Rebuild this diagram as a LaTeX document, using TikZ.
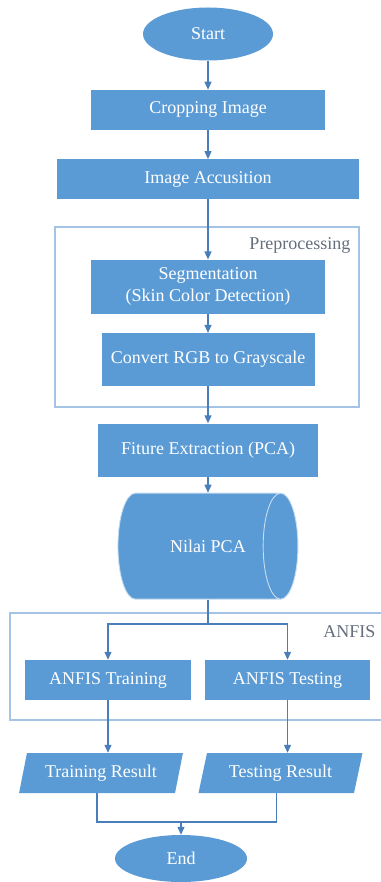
\documentclass[tikz,border=0pt]{standalone}
\usepackage{fontspec}
\setmainfont{Liberation Serif}
\newfontfamily\hurufserif{Liberation Serif}
\usetikzlibrary{positioning, arrows.meta, calc, fit, backgrounds, shapes.geometric}
\definecolor{azulcaja}{RGB}{91,155,213}
\definecolor{garis}{RGB}{74,126,187}
\definecolor{bingkai}{RGB}{165,195,228}
\definecolor{abu}{RGB}{100,110,125}
\newcommand{\teks}{\hurufserif\fontsize{18}{22}\selectfont}

\begin{document}
\begin{tikzpicture}[
		% Satuan dalam piksel (y ke bawah)
		x=1pt, y=-1pt,
		% Gaya bentuk diagram alir
		terminal/.style={ellipse, fill=azulcaja, minimum width=130pt, minimum height=53pt, inner sep=0pt, text=white, font=\teks},
		proses/.style={rectangle, fill=azulcaja, minimum height=40pt, align=center, text=white, font=\teks},
		hasil/.style={trapezium, trapezium left angle=70, trapezium right angle=110, trapezium stretches=true, fill=azulcaja, minimum width=164pt, minimum height=40pt, inner sep=0pt, text=white, font=\teks},
		basisdata/.style={cylinder, shape border rotate=0, aspect=1.8, cylinder uses custom fill, cylinder body fill=azulcaja, cylinder end fill=azulcaja, draw=azulcaja!35!white, line width=0.9pt, minimum height=180pt, minimum width=106pt, text=white, font=\teks},
		% Gaya kotak kelompok
		grup_box/.style={draw=bingkai, line width=1.2pt, inner sep=0pt},
		label_grup/.style={font=\teks, text=abu, anchor=east},
		% Gaya panah dan garis
		panah/.style={-{Triangle[width=7pt,length=8pt]}, line width=1.2pt, draw=garis},
		garis_hub/.style={line width=1.2pt, draw=garis}
		]
		\useasboundingbox (0,0) rectangle (380,882);
		
		% --- ALUR UTAMA ---
		\node[terminal] (start) at (208,34) {Start};
		\node[proses, minimum width=234pt, below=29pt of start] (crop) {Cropping Image};
		\node[proses, minimum width=302pt, below=29pt of crop] (acq) {Image Accusition};
		
		% --- PREPROCESSING ---
		\node[proses, minimum width=234pt, minimum height=54pt, below=60pt of acq] (seg) {Segmentation\\(Skin Color Detection)};
		\node[proses, minimum width=213pt, minimum height=53pt, below=19pt of seg] (gray) {Convert RGB to Grayscale};
		
		\node[proses, minimum width=220pt, minimum height=53pt, below=37pt of gray] (fitur) {Fiture Extraction (PCA)};
		% teks digeser agar di tengah badan silinder
		\node[basisdata, below=16pt of fitur, xshift=-12pt] (nilai) {\hspace*{24pt}Nilai PCA};
		
		% --- ANFIS ---
		\node[proses, minimum width=166pt] (train) at (108,680) {ANFIS Training};
		\node[proses, minimum width=165pt] (test) at (287.5,680) {ANFIS Testing};
		
		\node[hasil] (hasiltrain) at (101,773) {Training Result};
		\node[hasil] (hasiltest) at (280.5,773) {Testing Result};
		
		\node[terminal, minimum width=132pt, minimum height=47pt] (end) at (181,858.5) {End};
		
		% Titik cabang dan titik gabung
		\coordinate (cabang) at (208,624);
		\coordinate (gabung) at (181,822);
		
		% --- KONEKSI ---
		\draw[panah] (start) -- (crop);
		\draw[panah] (crop) -- (acq);
		\draw[panah] (acq) -- (seg);
		\draw[panah] (seg) -- (gray);
		\draw[panah] (gray) -- (fitur);
		\draw[panah] (fitur.south) -- (fitur.south |- nilai.north);
		
		\draw[garis_hub] (cabang |- nilai.south) -- (cabang);
		\draw[panah] (cabang) -| (train);
		\draw[panah] (cabang) -| (test);
		
		\draw[panah] (train.south) -- (train.south |- hasiltrain.north);
		\draw[panah] (test.south) -- (test.south |- hasiltest.north);
		
		\draw[garis_hub] ($(hasiltrain.bottom left corner)!.5!(hasiltrain.bottom right corner)$) |- (gabung) -| ($(hasiltest.bottom left corner)!.5!(hasiltest.bottom right corner)$);
		\draw[panah] (gabung) -- (end);
		
		% --- KOTAK KELOMPOK ---
		\begin{scope}[on background layer]
			\node[grup_box, fit={(55,227) (359,407)}] (prep) {};
			\node[label_grup] at (354,245) {Preprocessing};
			
			\node[grup_box, fit={(10,613) (384,720)}] (anfis) {};
			\node[label_grup] at (379,632) {ANFIS};
		\end{scope}
		
	\end{tikzpicture}
\end{document}
